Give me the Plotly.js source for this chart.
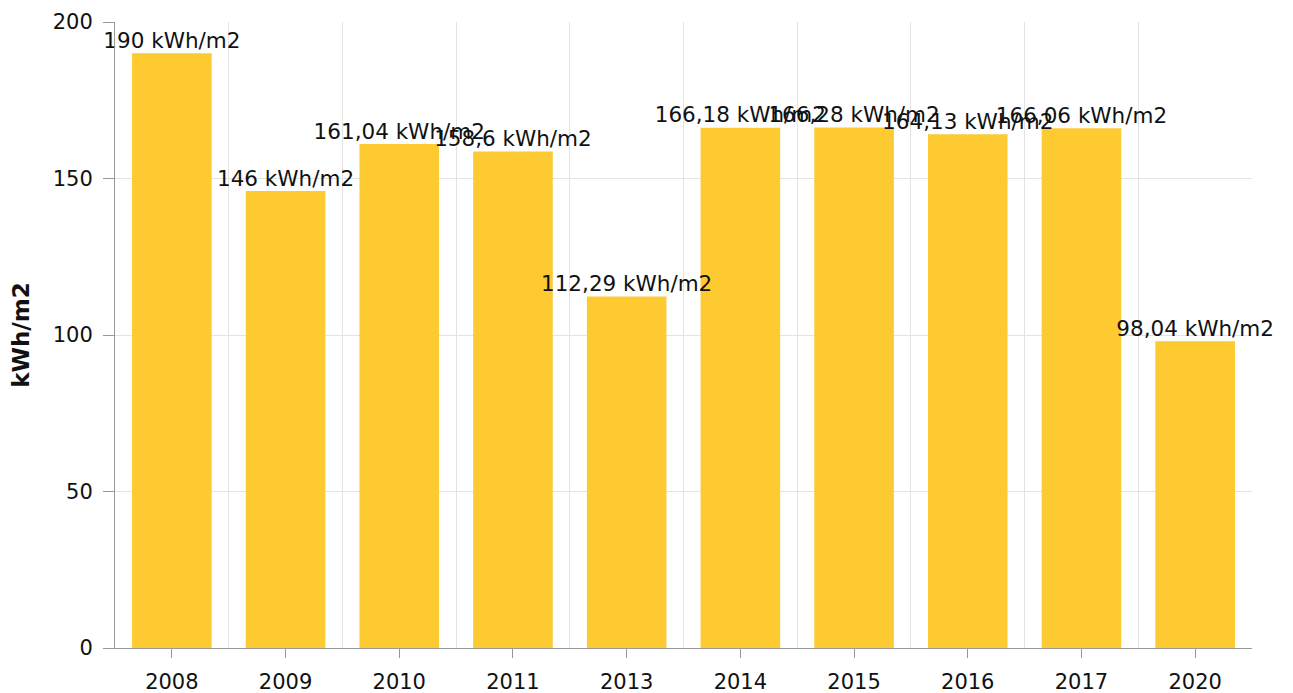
<!DOCTYPE html>
<html>
<head>
<meta charset="utf-8">
<script src="https://cdn.plot.ly/plotly-3.0.1.min.js"></script>
<style>html,body{margin:0;padding:0;background:#fff;}#chart{width:1293px;height:693px;}</style>
</head>
<body>
<div id="chart"></div>
<script>
const years = ["2008","2009","2010","2011","2013","2014","2015","2016","2017","2020"];
const values = [190, 146, 161.04, 158.6, 112.29, 166.18, 166.28, 164.13, 166.06, 98.04];
const unit = "kWh/m2";

const idx = years.map((_, i) => i);
const labels = values.map(v => String(v).replace('.', ',') + ' ' + unit);
const font = "DejaVu Sans, Verdana, sans-serif";

const bars = {
  type: 'bar',
  x: idx,
  y: values,
  width: 0.7,
  marker: {color: '#fdca32'},
  hoverinfo: 'none'
};

const texts = {
  type: 'scatter',
  mode: 'text',
  x: idx,
  y: values,
  text: labels,
  textposition: 'top center',
  marker: {size: 11},
  cliponaxis: false,
  textfont: {family: font, size: 21.5, color: '#111'},
  hoverinfo: 'none'
};

const layout = {
  width: 1293, height: 693,
  margin: {l: 115, r: 41, t: 22, b: 45},
  paper_bgcolor: '#fff', plot_bgcolor: '#fff',
  showlegend: false,
  xaxis: {
    range: [-0.5, 9.5],
    tickmode: 'array', tickvals: idx, ticktext: years,
    showgrid: false, zeroline: false,
    showline: true, linecolor: '#999', linewidth: 1,
    ticks: 'outside', ticklen: 9, tickcolor: '#999',
    ticklabelstandoff: 6,
    tickfont: {family: font, size: 21, color: '#111'},
    minor: {tickmode: 'linear', tick0: 0.5, dtick: 1, showgrid: true, gridcolor: '#e3e3e3', gridwidth: 1, ticks: ''}
  },
  yaxis: {
    range: [0, 200],
    tickvals: [0, 50, 100, 150, 200],
    showgrid: true, gridcolor: '#e3e3e3', gridwidth: 1,
    zeroline: false,
    showline: true, linecolor: '#999', linewidth: 1,
    ticks: 'outside', ticklen: 11, tickcolor: '#999',
    ticklabelstandoff: 6,
    tickfont: {family: font, size: 21, color: '#111'},
    title: {text: '<b>' + unit + '</b>', font: {family: font, size: 23, color: '#111'}, standoff: 16}
  }
};

Plotly.newPlot('chart', [bars, texts], layout, {displayModeBar: false, staticPlot: true});
</script>
</body>
</html>
